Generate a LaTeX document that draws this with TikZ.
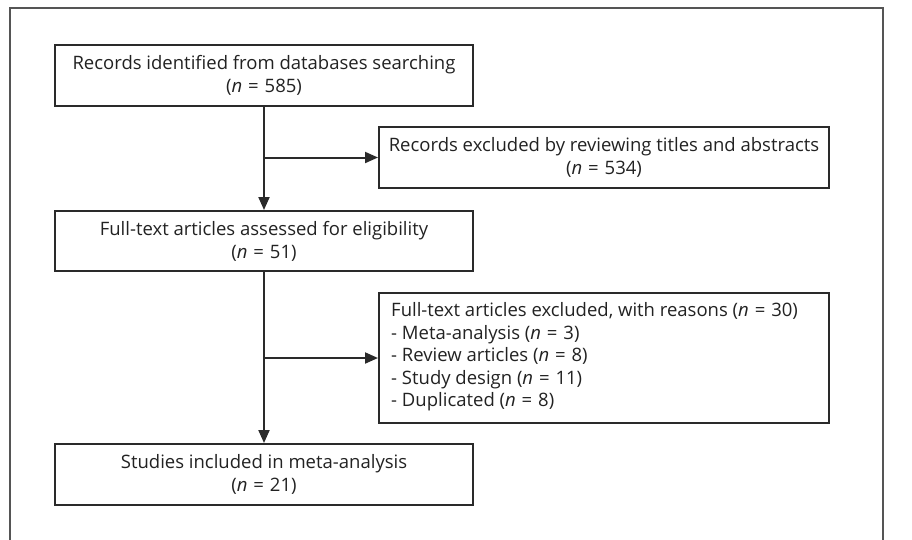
\documentclass[tikz,border=0pt]{standalone}
\usepackage{fontspec}
\setmainfont{Open Sans}
\usetikzlibrary{arrows.meta}
\definecolor{boxline}{HTML}{2A2A2A}
\definecolor{frameline}{HTML}{555555}
\definecolor{txt}{HTML}{222222}
\newcommand\ncount[1]{(\textit{n}\hspace{0.32em}=\hspace{0.32em}#1)}
\begin{document}
\begin{tikzpicture}[x=1pt,y=-1pt,
  box/.style={draw=boxline,line width=2pt,inner sep=0pt,text=txt,
    font=\fontsize{18.5}{23}\selectfont},
  conn/.style={draw=boxline,line width=2pt,-{Triangle[length=13pt,width=11pt]}},
  framestyle/.style={draw=frameline,line width=1.5pt}]
\useasboundingbox (0,0) rectangle (912,539);
\draw[framestyle] (10,545) -- (10,8) -- (883,8) -- (883,545);
\node[box,minimum width=418pt,minimum height=61pt,align=center] (b1) at (264,75.5)
  {Records identified from databases searching\\\ncount{585}};
\node[box,minimum width=450pt,minimum height=61pt,align=center] (b2) at (604,157.5)
  {Records excluded by reviewing titles and abstracts\\\ncount{534}};
\node[box,minimum width=418pt,minimum height=60pt,align=center] (b3) at (264,241)
  {Full-text articles assessed for eligibility\\\ncount{51}};
\node[box,minimum width=450pt,minimum height=130pt] (b4) at (604,358) {};
\node[anchor=west,inner sep=0pt,text=txt,align=left,font=\fontsize{18.5}{22.5}\selectfont] (t4) at (391,357)
  {Full-text articles excluded, with reasons \ncount{30}\\
   - Meta-analysis \ncount{3}\\
   - Review articles \ncount{8}\\
   - Study design \ncount{11}\\
   - Duplicated \ncount{8}};
\node[box,minimum width=418pt,minimum height=61pt,align=center] (b5) at (264,474.5)
  {Studies included in meta-analysis\\\ncount{21}};
\coordinate (j1) at (b1.south |- b2.west);
\coordinate (j2) at (b3.south |- b4.west);
\draw[conn] (b1.south) -- (b3.north);
\draw[conn] (j1) -- (b2.west);
\draw[conn] (b3.south) -- (b5.north);
\draw[conn] (j2) -- (b4.west);
\end{tikzpicture}
\end{document}
